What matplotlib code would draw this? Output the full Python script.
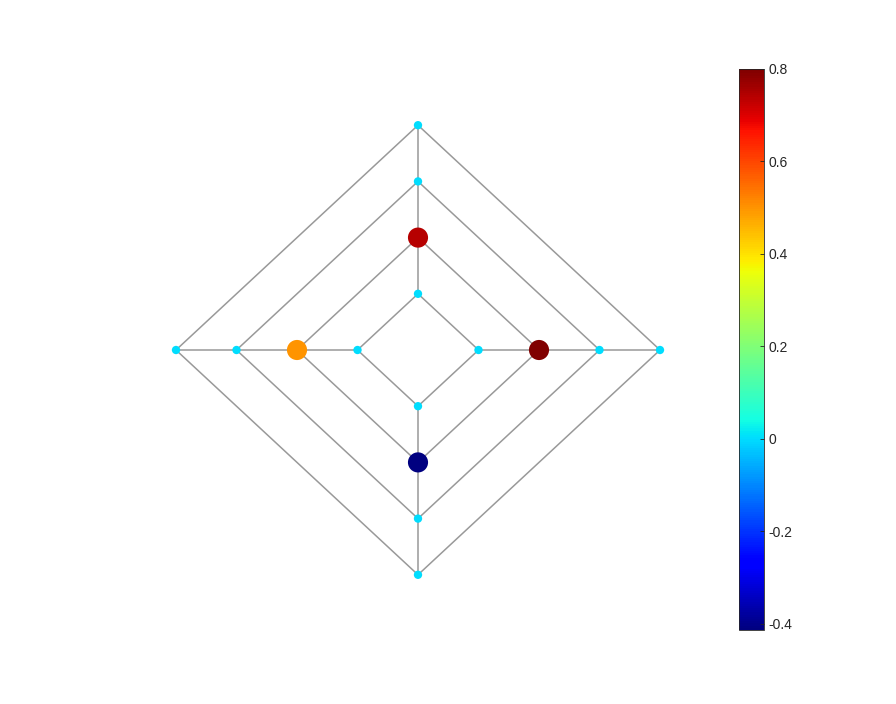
import numpy as np
import matplotlib
matplotlib.use('Agg')
import matplotlib.pyplot as plt

plt.rcParams['font.family'] = ['Liberation Sans', 'DejaVu Sans']

# graph nodes: ring number and direction (0=right, 1=top, 2=left, 3=bottom)
node_ring = [1, 1, 1, 1, 2, 2, 2, 2, 3, 3, 3, 3, 4, 4, 4, 4]
node_dir = [0, 1, 2, 3, 0, 1, 2, 3, 0, 1, 2, 3, 0, 1, 2, 3]
node_value = [0, 0, 0, 0, 0.80, 0.74, 0.50, -0.413, 0, 0, 0, 0, 0, 0, 0, 0]
cbar_ticks = [-0.4, -0.2, 0, 0.2, 0.4, 0.6, 0.8]

# edges: each ring is a diamond, plus spokes between rings
edges = []
for r in range(4):
    for d in range(4):
        edges.append((r * 4 + d, r * 4 + (d + 1) % 4))
for r in range(3):
    for d in range(4):
        edges.append((r * 4 + d, (r + 1) * 4 + d))

dirs = np.array([[1, 0], [0, 1], [-1, 0], [0, -1]])
xy = np.array([dirs[d] * r for r, d in zip(node_ring, node_dir)], dtype=float)
vals = np.array(node_value)

fig = plt.figure(figsize=(8.96, 7.04), dpi=100)
ax = fig.add_axes([145.75 / 896, 101.1 / 704, 544.5 / 896, 505.8 / 704])
ax.set_xlim(-4.5, 4.5)
ax.set_ylim(-4.5, 4.5)
ax.axis('off')

for a, b in edges:
    ax.plot([xy[a, 0], xy[b, 0]], [xy[a, 1], xy[b, 1]],
            color=(0.6, 0.6, 0.6), lw=1.1, zorder=1)

sizes = np.where(vals != 0, 210, 36)
vmin, vmax = vals.min(), vals.max()
sc = ax.scatter(xy[:, 0], xy[:, 1], c=vals, s=sizes, cmap='jet',
                vmin=vmin, vmax=vmax, edgecolors='none', zorder=2)

cax = fig.add_axes([739 / 896, 74 / 704, 25 / 896, 561 / 704])
cb = fig.colorbar(sc, cax=cax, ticks=cbar_ticks)
cb.ax.set_yticklabels(['-0.4', '-0.2', '0', '0.2', '0.4', '0.6', '0.8'])
cb.ax.tick_params(direction='in', length=3, width=0.6, labelsize=10,
                  colors=(0.15, 0.15, 0.15), pad=3)
cb.outline.set_linewidth(0.6)
cb.outline.set_edgecolor((0.15, 0.15, 0.15))

fig.savefig('out.png', dpi=100)
